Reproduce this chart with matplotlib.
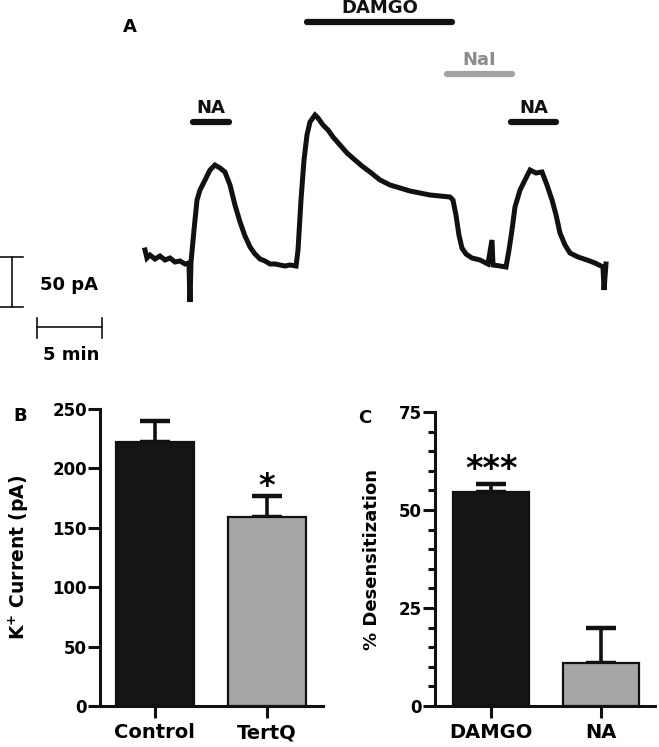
import matplotlib
matplotlib.use("Agg")
import matplotlib.pyplot as plt

plt.rcParams['font.family'] = ['DejaVu Sans']
plt.rcParams['font.weight'] = 'bold'

# ---- panel A: whole-cell trace (min, pA) ----
trace_t = [0.0, 0.15, 0.38, 0.77, 1.15, 1.54, 1.92, 2.31, 2.69, 3.08, 3.38, 3.46, 3.54,
           3.77, 4.0, 4.23, 4.62, 5.0, 5.38, 5.77, 6.15, 6.54, 6.92, 7.31, 7.69, 8.08,
           8.46, 8.85, 9.23, 9.62, 10.0, 10.38, 10.77, 11.15, 11.62, 11.77, 12.0, 12.23,
           12.46, 12.69, 13.08, 13.31, 13.69, 14.08, 14.46, 15.0, 15.54, 16.15, 16.69,
           17.31, 18.08, 18.85, 19.62, 20.38, 21.15, 21.92, 22.69, 23.46, 23.69, 23.92,
           24.15, 24.38, 24.69, 25.15, 25.77, 26.38, 26.69, 26.77, 27.31, 27.77, 28.0,
           28.23, 28.46, 28.85, 29.23, 29.62, 30.08, 30.54, 30.92, 31.31, 31.62, 31.92,
           32.31, 32.69, 33.31, 34.0, 34.62, 35.23, 35.31, 35.46]
trace_i = [12, 4, 7, 3, 6, 2, 4, 0, 1, -2, -1, -40, 0,
           32, 62, 72, 82, 92, 97, 94, 90, 77, 57, 40, 26, 15,
           8, 3, 1, -2, -2, -3, -4, -3, -4, 12, 62, 102,
           127, 140, 147, 144, 137, 132, 125, 117, 109, 102, 96,
           90, 82, 77, 74, 71, 69, 67, 66, 65, 62, 47,
           27, 14, 8, 4, 2, -2, 22, -3, -4, -5, 12,
           32, 55, 72, 82, 92, 89, 90, 77, 62, 47, 29,
           17, 9, 5, 2, -1, -5, -28, -2]

drugs = ['NA', 'DAMGO', 'NaI', 'NA']
drug_start = [3.7, 12.46, 23.2, 28.15]
drug_end = [6.46, 23.6, 28.2, 31.6]
drug_level = [140, 240, 188, 140]
drug_colors = ['#111111', '#111111', '#a3a3a3', '#111111']
drug_text_colors = ['#111111', '#111111', '#8c8c8c', '#111111']

# ---- panel B ----
b_labels = ['Control', 'TertQ']
b_values = [222, 159]
b_errors = [18, 18]

# ---- panel C ----
c_labels = ['DAMGO', 'NA']
c_values = [54.7, 10.9]
c_errors = [2.0, 9.0]

bar_colors = ['#151515', '#a6a6a6']

fig = plt.figure(figsize=(6.59, 7.47), dpi=100)
W, H = 659, 747

# panel A axes covers the top 380 px, 13 px per minute, 1 px per pA
axA = fig.add_axes([0, 1 - 380 / H, 1, 380 / H])
axA.set_xlim(-145 / 13, (W - 145) / 13)
axA.set_ylim(262 - 380, 262)
axA.axis('off')
axA.plot(trace_t, trace_i, color='#111111', lw=3.6, solid_joinstyle='miter')

for name, s, e, lev, c, tc in zip(drugs, drug_start, drug_end, drug_level, drug_colors, drug_text_colors):
    axA.plot([s, e], [lev, lev], color=c, lw=4.5, solid_capstyle='round')
    axA.text((s + e) / 2, lev + 5, name, ha='center', va='bottom', fontsize=13,
             fontweight='bold', color=tc)

axA.text(-1.15, 235, 'A', ha='center', va='center', fontsize=13, fontweight='bold')

# scale bars
axA.plot([-10.23, -10.23], [5, -45], color='#111111', lw=1.2)
axA.plot([-11.2, -9.38], [5, 5], color='#111111', lw=1.2)
axA.plot([-11.2, -9.38], [-45, -45], color='#111111', lw=1.2)
axA.text(-8.1, -23, '50 pA', ha='left', va='center', fontsize=13, fontweight='bold')
axA.plot([-8.31, -3.31], [-65, -65], color='#111111', lw=1.2)
axA.plot([-8.31, -8.31], [-56, -76], color='#111111', lw=1.2)
axA.plot([-3.31, -3.31], [-56, -76], color='#111111', lw=1.2)
axA.text(-5.7, -93, '5 min', ha='center', va='center', fontsize=13, fontweight='bold')


def style_axis(ax):
    for s in ['top', 'right']:
        ax.spines[s].set_visible(False)
    for s in ['left', 'bottom']:
        ax.spines[s].set_linewidth(2.2)
        ax.spines[s].set_color('#111111')
    ax.tick_params(axis='both', which='major', length=8.5, width=2.2, color='#111111')
    ax.tick_params(axis='y', labelsize=12, pad=1)
    ax.tick_params(axis='x', labelsize=14, pad=4)
    for lab in ax.get_xticklabels() + ax.get_yticklabels():
        lab.set_fontweight('bold')


def bar_panel(ax, labels, values, errors):
    x = list(range(len(labels)))
    ax.bar(x, values, width=0.69, color=bar_colors, edgecolor='#111111', linewidth=1.6, zorder=2)
    ax.errorbar(x, values, yerr=[[0] * len(errors), errors], fmt='none', ecolor='#111111',
                elinewidth=2.6, capsize=10.5, capthick=3.2, zorder=1)
    ax.set_xticks(x)
    ax.set_xticklabels(labels)


# panel B
axB = fig.add_axes([100 / W, 1 - 706 / H, 223 / W, 297 / H])
bar_panel(axB, b_labels, b_values, b_errors)
axB.set_xlim(-0.49, 1.5)
axB.set_ylim(0, 250)
axB.set_yticks([0, 50, 100, 150, 200, 250])
axB.set_ylabel('K$^{+}$ Current (pA)', fontsize=13.5, fontweight='bold', labelpad=15)
style_axis(axB)
axB.text(1, b_values[1] + b_errors[1] - 5, '*', ha='center', va='bottom', fontsize=23, fontweight='bold')
fig.text(13 / W, 1 - 416 / H, 'B', ha='left', va='center', fontsize=13, fontweight='bold')

# panel C
axC = fig.add_axes([435 / W, 1 - 706 / H, 220 / W, 294 / H])
bar_panel(axC, c_labels, c_values, c_errors)
axC.set_xlim(-0.51, 1.49)
axC.set_ylim(0, 75)
axC.set_yticks([0, 25, 50, 75])
axC.set_yticks(range(0, 76, 5), minor=True)
axC.tick_params(axis='y', which='minor', length=5, width=2.2, color='#111111')
axC.set_ylabel('% Desensitization', fontsize=13, fontweight='bold', labelpad=13)
style_axis(axC)
axC.text(0, c_values[0] + c_errors[0] - 0.5, '***', ha='center', va='bottom', fontsize=24, fontweight='bold')
fig.text(358 / W, 1 - 418 / H, 'C', ha='left', va='center', fontsize=13, fontweight='bold')

fig.savefig('out.png', dpi=100)
